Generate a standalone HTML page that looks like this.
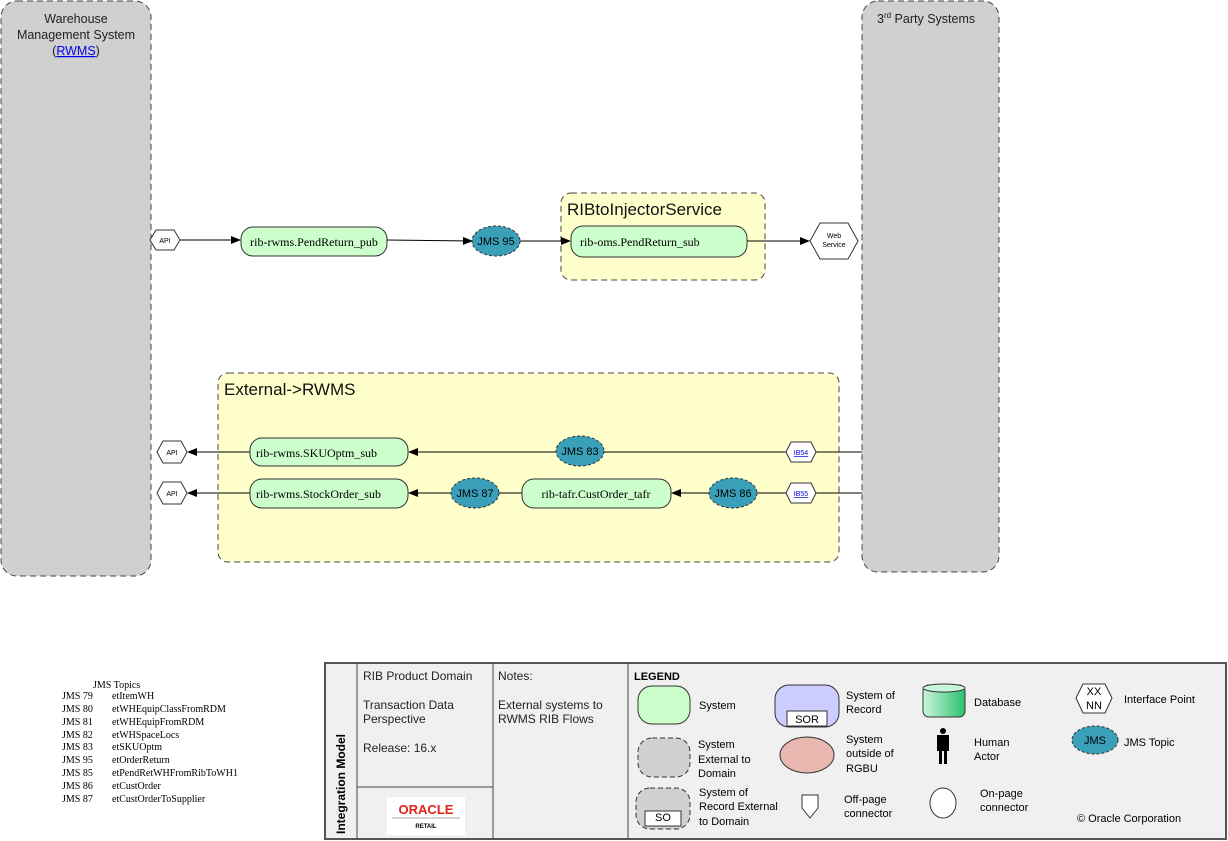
<!DOCTYPE html>
<html><head><style>
body{margin:0;background:#fff;}
svg{display:block;font-family:"Liberation Sans",Arial,sans-serif;}
.s{font-family:"Liberation Serif",serif;}
</style></head><body>
<svg width="1228" height="841" viewBox="0 0 1228 841">
<defs>
<marker id="a" markerWidth="10" markerHeight="8" refX="9" refY="4" orient="auto" markerUnits="userSpaceOnUse"><path d="M0,0 L10,4 L0,8 z" fill="#000"/></marker>
<linearGradient id="db" x1="0" x2="1"><stop offset="0" stop-color="#c8f5dc"/><stop offset="1" stop-color="#2fbf6f"/></linearGradient>
</defs>
<!-- lanes -->
<rect x="1" y="1" width="150" height="575" rx="16" fill="#d0d0d0" stroke="#444" stroke-dasharray="6,4"/>
<text x="76" y="23" font-size="12.5" text-anchor="middle" fill="#222">Warehouse</text>
<text x="76" y="39" font-size="12.5" text-anchor="middle" fill="#222">Management System</text>
<text x="76" y="55" font-size="12.5" text-anchor="middle" fill="#222">(<tspan fill="#0000ee" text-decoration="underline">RWMS</tspan>)</text>
<rect x="862" y="1" width="137" height="571" rx="16" fill="#d0d0d0" stroke="#444" stroke-dasharray="6,4"/>
<text x="877" y="23" font-size="12.5" fill="#222">3<tspan font-size="8" dy="-5">rd</tspan><tspan dy="5"> Party Systems</tspan></text>
<!-- groups -->
<rect x="561" y="193" width="204" height="87" rx="10" fill="#ffffcc" stroke="#444" stroke-dasharray="6,4"/>
<text x="567" y="215" font-size="17" fill="#111">RIBtoInjectorService</text>
<rect x="218" y="373" width="621" height="189" rx="10" fill="#ffffcc" stroke="#444" stroke-dasharray="6,4"/>
<text x="224" y="395" font-size="17" fill="#111">External-&gt;RWMS</text>
<!-- row1 -->
<polygon points="150,240 156,230 174,230 180,240 174,250 156,250" fill="#fff" stroke="#333"/>
<text x="165" y="243" font-size="7" text-anchor="middle">API</text>
<line x1="180" y1="240" x2="240" y2="240" stroke="#000" marker-end="url(#a)"/>
<rect x="241" y="227" width="146" height="29" rx="12" fill="#ccffcc" stroke="#333"/>
<text x="314" y="246" font-size="12" text-anchor="middle" class="s">rib-rwms.PendReturn_pub</text>
<line x1="387" y1="240" x2="472" y2="241" stroke="#000" marker-end="url(#a)"/>
<ellipse cx="496" cy="241" rx="24" ry="15" fill="#3a9fb8" stroke="#333" stroke-dasharray="3,2"/>
<text x="496" y="245" font-size="11" text-anchor="middle">JMS 95</text>
<line x1="520" y1="241" x2="570" y2="241" stroke="#000" marker-end="url(#a)"/>
<rect x="571" y="226" width="176" height="31" rx="12" fill="#ccffcc" stroke="#333"/>
<text x="580" y="246" font-size="12" class="s">rib-oms.PendReturn_sub</text>
<line x1="747" y1="241" x2="809" y2="241" stroke="#000" marker-end="url(#a)"/>
<polygon points="810,241 820,223 848,223 858,241 848,259 820,259" fill="#fff" stroke="#333"/>
<text x="834" y="238" font-size="7" text-anchor="middle">Web</text>
<text x="834" y="247" font-size="7" text-anchor="middle">Service</text>
<!-- row2 -->
<polygon points="157,452 163,441 181,441 187,452 181,463 163,463" fill="#fff" stroke="#333"/>
<text x="172" y="455" font-size="7" text-anchor="middle">API</text>
<line x1="250" y1="452" x2="188" y2="452" stroke="#000" marker-end="url(#a)"/>
<rect x="250" y="438" width="158" height="28" rx="12" fill="#ccffcc" stroke="#333"/>
<text x="256" y="457" font-size="12" class="s">rib-rwms.SKUOptm_sub</text>
<line x1="556" y1="452" x2="409" y2="452" stroke="#000" marker-end="url(#a)"/>
<ellipse cx="580" cy="451" rx="24" ry="15" fill="#3a9fb8" stroke="#333" stroke-dasharray="3,2"/>
<text x="580" y="455" font-size="11" text-anchor="middle">JMS 83</text>
<line x1="786" y1="452" x2="604" y2="452" stroke="#000"/>
<polygon points="786,452 791,442 811,442 816,452 811,462 791,462" fill="#fff" stroke="#333"/>
<text x="801" y="455" font-size="7" text-anchor="middle" fill="#0000ee" text-decoration="underline">IB54</text>
<line x1="816" y1="452" x2="862" y2="452" stroke="#000"/>
<!-- row3 -->
<polygon points="157,493 163,482 181,482 187,493 181,504 163,504" fill="#fff" stroke="#333"/>
<text x="172" y="496" font-size="7" text-anchor="middle">API</text>
<line x1="250" y1="493" x2="188" y2="493" stroke="#000" marker-end="url(#a)"/>
<rect x="250" y="479" width="158" height="29" rx="12" fill="#ccffcc" stroke="#333"/>
<text x="256" y="498" font-size="12" class="s">rib-rwms.StockOrder_sub</text>
<line x1="451" y1="493" x2="409" y2="493" stroke="#000" marker-end="url(#a)"/>
<ellipse cx="475" cy="493" rx="24" ry="15" fill="#3a9fb8" stroke="#333" stroke-dasharray="3,2"/>
<text x="475" y="497" font-size="11" text-anchor="middle">JMS 87</text>
<line x1="522" y1="493" x2="499" y2="493" stroke="#000"/>
<rect x="522" y="479" width="149" height="29" rx="12" fill="#ccffcc" stroke="#333"/>
<text x="596" y="498" font-size="12" text-anchor="middle" class="s">rib-tafr.CustOrder_tafr</text>
<line x1="709" y1="493" x2="672" y2="493" stroke="#000" marker-end="url(#a)"/>
<ellipse cx="733" cy="493" rx="24" ry="15" fill="#3a9fb8" stroke="#333" stroke-dasharray="3,2"/>
<text x="733" y="497" font-size="11" text-anchor="middle">JMS 86</text>
<line x1="786" y1="493" x2="757" y2="493" stroke="#000"/>
<polygon points="786,493 791,483 811,483 816,493 811,503 791,503" fill="#fff" stroke="#333"/>
<text x="801" y="496" font-size="7" text-anchor="middle" fill="#0000ee" text-decoration="underline">IB55</text>
<line x1="816" y1="493" x2="862" y2="493" stroke="#000"/>
<!-- JMS topics -->
<g class="s" font-size="10" fill="#000">
<text x="93" y="688">JMS Topics</text>
<text x="62" y="699">JMS 79</text><text x="112" y="699">etItemWH</text>
<text x="62" y="712">JMS 80</text><text x="112" y="712">etWHEquipClassFromRDM</text>
<text x="62" y="725">JMS 81</text><text x="112" y="725">etWHEquipFromRDM</text>
<text x="62" y="738">JMS 82</text><text x="112" y="738">etWHSpaceLocs</text>
<text x="62" y="750">JMS 83</text><text x="112" y="750">etSKUOptm</text>
<text x="62" y="763">JMS 95</text><text x="112" y="763">etOrderReturn</text>
<text x="62" y="776">JMS 85</text><text x="112" y="776">etPendRetWHFromRibToWH1</text>
<text x="62" y="789">JMS 86</text><text x="112" y="789">etCustOrder</text>
<text x="62" y="802">JMS 87</text><text x="112" y="802">etCustOrderToSupplier</text>
</g>
<!-- bottom box -->
<rect x="325" y="663" width="901" height="176" fill="#f0f0f0" stroke="#555" stroke-width="2"/>
<line x1="357" y1="663" x2="357" y2="839" stroke="#444"/>
<line x1="493" y1="663" x2="493" y2="839" stroke="#444"/>
<line x1="628" y1="663" x2="628" y2="839" stroke="#444"/>
<line x1="357" y1="787" x2="493" y2="787" stroke="#444"/>
<text transform="translate(345,834) rotate(-90)" font-size="12" font-weight="bold">Integration Model</text>
<g font-size="12" fill="#222">
<text x="363" y="680">RIB Product Domain</text>
<text x="363" y="709">Transaction Data</text>
<text x="363" y="723">Perspective</text>
<text x="363" y="752">Release:  16.x</text>
<text x="498" y="680">Notes:</text>
<text x="498" y="709">External systems to</text>
<text x="498" y="723">RWMS RIB Flows</text>
</g>
<rect x="387" y="797" width="78" height="38" fill="#fff"/>
<text x="426" y="814" font-size="13" font-weight="bold" fill="#e2231a" text-anchor="middle">ORACLE</text>
<line x1="392" y1="818" x2="460" y2="818" stroke="#aaa"/>
<text x="426" y="828" font-size="6" font-weight="bold" text-anchor="middle">RETAIL</text>
<!-- legend -->
<text x="634" y="680" font-size="11" font-weight="bold">LEGEND</text>
<rect x="638" y="686" width="52" height="38" rx="14" fill="#ccffcc" stroke="#333"/>
<text x="699" y="709" font-size="11">System</text>
<rect x="775" y="685" width="64" height="42" rx="14" fill="#ccccff" stroke="#333"/>
<rect x="787" y="711" width="40" height="15" fill="#fff" stroke="#333"/>
<text x="807" y="723" font-size="11" text-anchor="middle">SOR</text>
<text x="846" y="699" font-size="11">System of</text><text x="846" y="713" font-size="11">Record</text>
<rect x="923" y="685" width="42" height="32" rx="6" fill="url(#db)" stroke="#333"/>
<ellipse cx="944" cy="688" rx="21" ry="4" fill="#c8f5dc" stroke="#333"/>
<text x="974" y="706" font-size="11">Database</text>
<polygon points="1076,698 1083,684 1105,684 1112,698 1105,713 1083,713" fill="#fff" stroke="#333"/>
<text x="1094" y="695" font-size="11" text-anchor="middle">XX</text>
<text x="1094" y="709" font-size="11" text-anchor="middle">NN</text>
<text x="1124" y="703" font-size="11">Interface Point</text>
<rect x="638" y="738" width="52" height="39" rx="14" fill="#d0d0d0" stroke="#333" stroke-dasharray="5,3"/>
<text x="698" y="748" font-size="11">System</text><text x="698" y="763" font-size="11">External to</text><text x="698" y="777" font-size="11">Domain</text>
<ellipse cx="807" cy="755" rx="27" ry="18" fill="#e8b8b0" stroke="#333"/>
<text x="846" y="743" font-size="11">System</text><text x="846" y="757" font-size="11">outside of</text><text x="846" y="772" font-size="11">RGBU</text>
<circle cx="943" cy="731" r="3" fill="#000"/>
<rect x="937" y="735" width="12" height="16" fill="#000"/>
<rect x="939" y="750" width="3" height="14" fill="#000"/><rect x="944" y="750" width="3" height="14" fill="#000"/>
<text x="974" y="746" font-size="11">Human</text><text x="974" y="760" font-size="11">Actor</text>
<ellipse cx="1095" cy="740" rx="23" ry="14" fill="#3a9fb8" stroke="#333" stroke-dasharray="3,2"/>
<text x="1095" y="744" font-size="11" text-anchor="middle">JMS</text>
<text x="1124" y="746" font-size="11">JMS Topic</text>
<rect x="636" y="788" width="54" height="41" rx="14" fill="#d0d0d0" stroke="#333" stroke-dasharray="5,3"/>
<rect x="645" y="811" width="36" height="15" fill="#fff" stroke="#333"/>
<text x="663" y="821" font-size="11" text-anchor="middle">SO</text>
<text x="699" y="796" font-size="11">System of</text><text x="699" y="810" font-size="11">Record External</text><text x="699" y="825" font-size="11">to Domain</text>
<polygon points="802,795 818,795 818,808 810,818 802,808" fill="#fff" stroke="#333"/>
<text x="844" y="803" font-size="11">Off-page</text><text x="844" y="817" font-size="11">connector</text>
<ellipse cx="943" cy="803" rx="13" ry="15" fill="#fff" stroke="#333"/>
<text x="980" y="797" font-size="11">On-page</text><text x="980" y="811" font-size="11">connector</text>
<text x="1077" y="822" font-size="11">© Oracle Corporation</text>
</svg>
</body></html>
